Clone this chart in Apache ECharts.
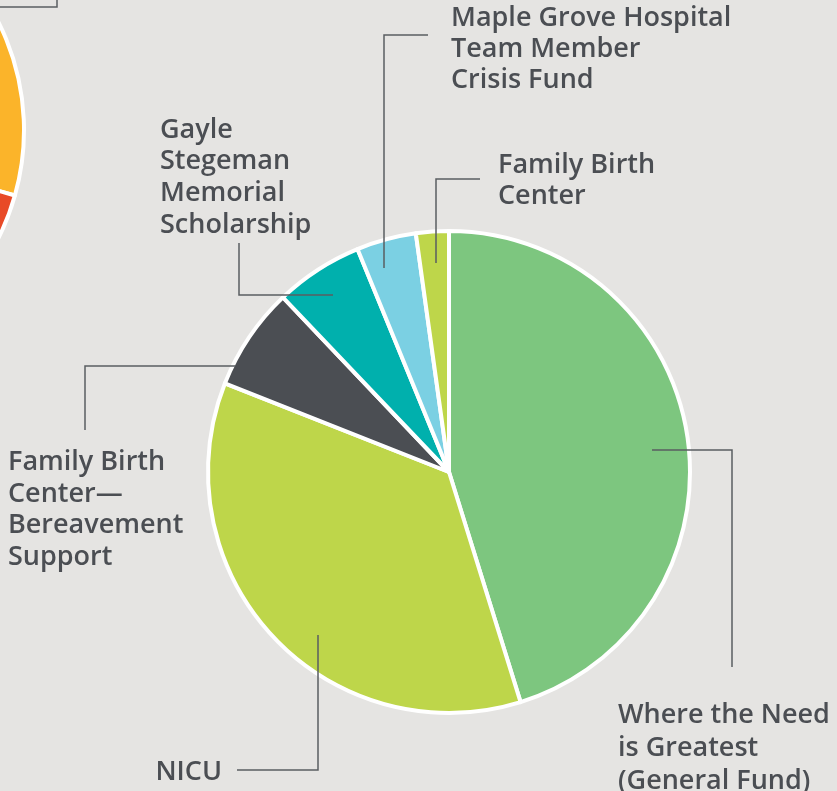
<!DOCTYPE html>
<html><head><meta charset="utf-8">
<style>html,body{margin:0;padding:0;background:#e5e4e2;}#c{width:837px;height:791px;}</style>
<script src="https://cdn.jsdelivr.net/npm/echarts@6/dist/echarts.min.js"></script>
</head><body><div id="c"></div>
<script>
// Main pie data
const categories = [
  'Where the Need\nis Greatest\n(General Fund)',
  'NICU',
  'Family Birth\nCenter\u2014\nBereavement\nSupport',
  'Gayle\nStegeman\nMemorial\nScholarship',
  'Maple Grove Hospital\nTeam Member\nCrisis Fund',
  'Family Birth\nCenter'
];
const values = [45.2, 35.8, 6.9, 5.9, 4.0, 2.2];
const colors = ['#7dc67f', '#bed64a', '#4b4e53', '#00b0ad', '#7bd0e3', '#bed64a'];

// Partially visible neighbouring pie (top-left, cut off by the frame)
const otherCategories = ['Other A', 'Orange slice', 'Red slice', 'Other B'];
const otherValues = [8.3, 21.1, 9.4, 61.2];
const otherColors = ['#c8c8c8', '#fbb42a', '#e84a27', '#c8c8c8'];

// Label placement (layout only): first-line centre, alignment, line height, leader line
const labelPos = [
  {x: 618, y: 714,   align: 'left',  lh: 33,   line: [[652, 450], [732, 450], [732, 667]]},
  {x: 222, y: 771,   align: 'right', lh: 31.5, line: [[318, 635], [318, 770], [237, 770]]},
  {x: 8,   y: 461.5, align: 'left',  lh: 31.5, line: [[235, 366], [85, 366], [85, 430]]},
  {x: 160, y: 129,   align: 'left',  lh: 31.7, line: [[333, 295], [239, 295], [239, 243]]},
  {x: 451, y: 17.5,  align: 'left',  lh: 31,   line: [[384, 268], [384, 35], [428, 35]]},
  {x: 498, y: 164,   align: 'left',  lh: 31.5, line: [[436, 263], [436, 179], [480, 179]]}
];
const cornerLeader = [[0, 7], [57, 7], [57, 0]];

const chart = echarts.init(document.getElementById('c'));
const textColor = '#4b4e53';
const lineColor = '#5a5d61';

const leaderGraphics = labelPos.map(L => L.line).concat([cornerLeader]).map(pts => ({
  type: 'polyline',
  z: 100,
  silent: true,
  shape: {points: pts},
  style: {stroke: lineColor, lineWidth: 1.5, fill: null}
}));

chart.setOption({
  backgroundColor: '#e5e4e2',
  animation: false,
  graphic: leaderGraphics,
  series: [
    {
      type: 'pie',
      center: [-216, 130],
      radius: 240,
      startAngle: 90,
      clockwise: true,
      silent: true,
      label: {show: false},
      labelLine: {show: false},
      itemStyle: {borderColor: '#ffffff', borderWidth: 4},
      emphasis: {disabled: true},
      data: otherValues.map((v, i) => ({name: otherCategories[i], value: v, itemStyle: {color: otherColors[i]}}))
    },
    {
      type: 'pie',
      center: [449, 472],
      radius: 241,
      startAngle: 90,
      clockwise: true,
      silent: true,
      avoidLabelOverlap: false,
      itemStyle: {borderColor: '#ffffff', borderWidth: 4},
      emphasis: {disabled: true},
      label: {
        show: true,
        position: 'outside',
        formatter: '{b}',
        color: textColor,
        fontFamily: 'Open Sans',
        fontSize: 27,
        fontWeight: 600
      },
      labelLine: {show: false},
      labelLayout: function (p) {
        const L = labelPos[p.dataIndex];
        if (!L) return {};
        return {
          x: L.x,
          y: L.y - L.lh / 2 + 1,
          align: L.align,
          verticalAlign: 'top'
        };
      },
      data: values.map((v, i) => ({
        name: categories[i],
        value: v,
        itemStyle: {color: colors[i]},
        label: {lineHeight: labelPos[i].lh}
      }))
    }
  ]
});
</script>
</body></html>
